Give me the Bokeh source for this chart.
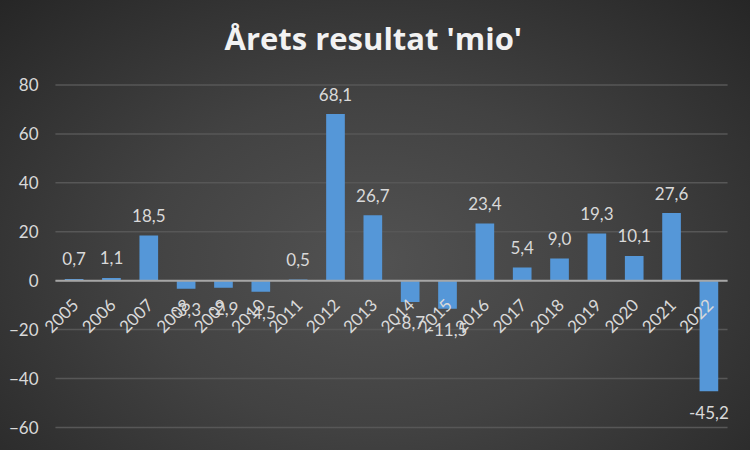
from bokeh.plotting import figure
from bokeh.models import FixedTicker, Title, ColumnDataSource, FactorRange
from bokeh.core.properties import value
from bokeh.transform import dodge
from bokeh.embed import file_html
from bokeh.resources import INLINE
import math

years = ["2005", "2006", "2007", "2008", "2009", "2010", "2011", "2012", "2013",
         "2014", "2015", "2016", "2017", "2018", "2019", "2020", "2021", "2022"]
results = [0.7, 1.1, 18.5, -3.3, -2.9, -4.5, 0.5, 68.1, 26.7,
           -8.7, -11.5, 23.4, 5.4, 9.0, 19.3, 10.1, 27.6, -45.2]
y_ticks = [-60, -40, -20, 0, 20, 40, 60, 80]
title_text = "Årets resultat 'mio'"

FONT = "Lato"
LABEL_COLOR = "#d9d9d9"
FS = "17px"

labels = [f"{v:.1f}".replace(".", ",") for v in results]

xr = FactorRange(factors=years, range_padding=0.4, range_padding_units="absolute")
p = figure(width=750, height=450, x_range=xr, y_range=(-67, 90),
           output_backend="svg", toolbar_location=None,
           min_border_left=40, min_border_right=8, min_border_top=60, min_border_bottom=6)

p.background_fill_alpha = 0
p.border_fill_alpha = 0
p.outline_line_color = None
p.styles = {"background": "radial-gradient(ellipse at 50% 58%, #525252 0%, #424242 45%, #262626 100%)"}

t = Title(text=title_text, align="left", text_font="Open Sans", text_font_size="31px",
          text_font_style="bold", text_color="#f2f2f2", standoff=4, vertical_align="bottom",
          offset=184)
p.add_layout(t, "above")

p.xaxis.visible = False
p.xgrid.grid_line_color = None
p.ygrid.grid_line_color = None
p.yaxis.ticker = FixedTicker(ticks=y_ticks)
p.yaxis.axis_line_color = None
p.yaxis.major_tick_line_color = None
p.yaxis.minor_tick_line_color = None
p.yaxis.major_tick_out = 0
p.yaxis.major_tick_in = 0
p.yaxis.minor_tick_out = 0
p.yaxis.major_label_text_color = LABEL_COLOR
p.yaxis.major_label_text_font = FONT
p.yaxis.major_label_text_font_size = FS
p.yaxis.major_label_standoff = 2

# gridlines spanning the category band only
grid_src = ColumnDataSource(dict(first=[years[0]] * len(y_ticks), last=[years[-1]] * len(y_ticks),
                                 y=y_ticks))
p.segment(x0=dodge("first", -0.5, range=xr), x1=dodge("last", 0.5, range=xr),
          y0="y", y1="y", source=grid_src, line_color="#575757", line_width=1.5)

src = ColumnDataSource(dict(year=years, val=results, label=labels))
p.vbar(x="year", top="val", bottom=0, width=0.5, source=src,
       fill_color="#5597d8", line_color=None)

zero_src = ColumnDataSource(dict(first=[years[0]], last=[years[-1]], y=[0]))
p.segment(x0=dodge("first", -0.5, range=xr), x1=dodge("last", 0.5, range=xr),
          y0="y", y1="y", source=zero_src, line_color="#a6a6a6", line_width=2)

pos = ColumnDataSource(dict(year=[y for y, v in zip(years, results) if v >= 0],
                            val=[v for v in results if v >= 0],
                            label=[l for l, v in zip(labels, results) if v >= 0]))
neg = ColumnDataSource(dict(year=[y for y, v in zip(years, results) if v < 0],
                            val=[v for v in results if v < 0],
                            label=[l for l, v in zip(labels, results) if v < 0]))
p.text(x="year", y="val", text="label", source=pos, text_align="center",
       text_baseline="middle", y_offset=-20, text_font=value(FONT),
       text_font_size=FS, text_color=LABEL_COLOR)
p.text(x="year", y="val", text="label", source=neg, text_align="center",
       text_baseline="middle", y_offset=21, text_font=value(FONT),
       text_font_size=FS, text_color=LABEL_COLOR)

zeros = ColumnDataSource(dict(year=years, zero=[0] * len(years)))
p.text(x="year", y="zero", text="year", source=zeros, angle=math.pi / 4,
       text_align="right", text_baseline="middle", x_offset=1, y_offset=21,
       text_font=value(FONT), text_font_size=FS, text_color=LABEL_COLOR)

open("out.html", "w").write(file_html(p, INLINE))
